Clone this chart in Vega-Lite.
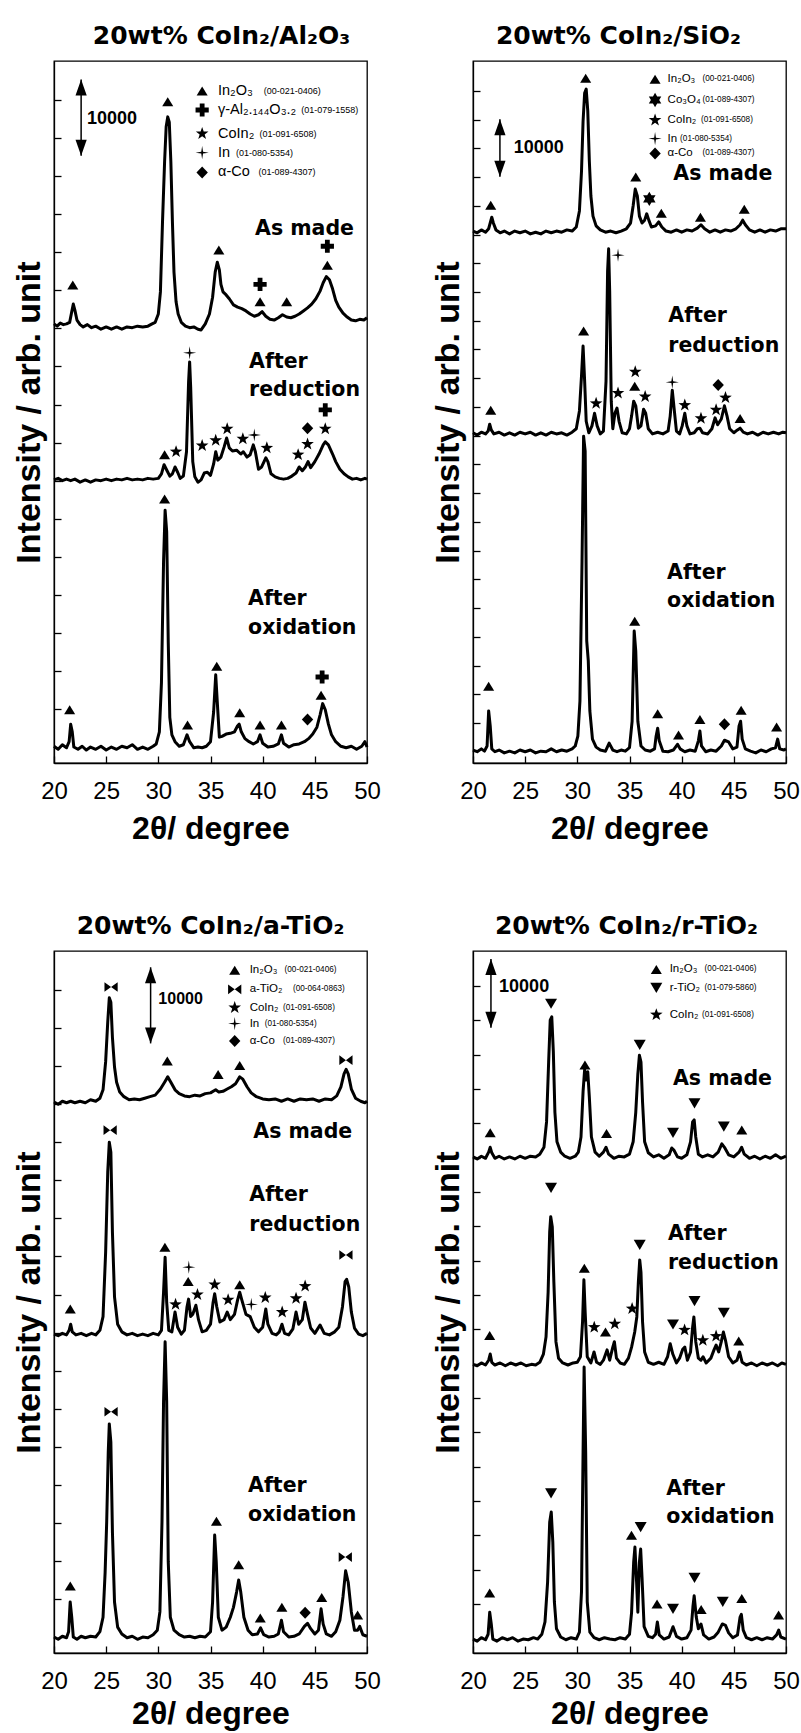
{
"$schema":"https://vega.github.io/schema/vega-lite/v6.json",
"background":"white",
"padding":{"left":11,"top":23,"right":5,"bottom":3},
"bounds":"flush",
"columns":2,
"spacing":{"row":188,"column":106},
"config":{
 "view":{"stroke":"black","strokeWidth":1.3},
 "axis":{"grid":false,"domainColor":"black","domainWidth":1.3,"tickColor":"black","tickWidth":1.3,"tickSize":-7,"labelColor":"black","titleColor":"black"},
 "axisX":{"labelFont":"Liberation Sans","labelFontSize":24,"labelPadding":23,"labelFlush":false,"labelOverlap":false,"titleFont":"Liberation Sans","titleFontSize":32,"titleFontWeight":"bold","titlePadding":10},
 "axisY":{"labels":false,"titleFont":"Liberation Sans","titleFontSize":34,"titleFontWeight":"bold","titlePadding":7},
 "title":{"font":"DejaVu Sans","fontSize":25,"fontWeight":"bold","color":"black","offset":12,"anchor":"middle","frame":"group"}
},
"concat":[
{
 "width":313,"height":702,
 "title":{"text":"20wt% CoIn₂/Al₂O₃","dx":11},
 "encoding":{
  "x":{"field":"x","type":"quantitative","scale":{"domain":[20,50],"nice":false,"zero":false},"axis":{"title":"2θ/ degree","values":[20,25,30,35,40,45,50]}},
  "y":{"field":"y","type":"quantitative","scale":{"domain":[2900,95140],"nice":false,"zero":false},"axis":{"title":"Intensity / arb. unit","values":[10000,15000,20000,25000,30000,35000,40000,45000,50000,55000,60000,65000,70000,75000,80000,85000,90000]}}
 },
 "layer":[
  {"data":{"name":"TLc"},"mark":{"type":"line","color":"black","strokeWidth":3,"strokeJoin":"round"},"encoding":{"detail":{"field":"s"}}},
  {"data":{"name":"TLm"},"mark":{"type":"point","filled":true,"color":"black","opacity":1,"size":144},"encoding":{"shape":{"field":"m","type":"nominal","legend":null,"scale":{"domain":["In2O3","Al2O3","CoIn2","In","Co","Co3O4","aTiO2","rTiO2"],"range":["M0,-0.75L0.92,0.75L-0.92,0.75Z","M-0.4,-1.1H0.4V-0.4H1.1V0.4H0.4V1.1H-0.4V0.4H-1.1V-0.4H-0.4Z","M0,-1.1L0.26,-0.36L1.05,-0.34L0.42,0.14L0.65,0.89L0,0.44L-0.65,0.89L-0.42,0.14L-1.05,-0.34L-0.26,-0.36Z","M0,-1.1L0.15,-0.15L1.1,0L0.15,0.15L0,1.1L-0.15,0.15L-1.1,0L-0.15,-0.15Z","M0,-1L0.95,0L0,1L-0.95,0Z","M0,-1.2L0.35,-0.6L1.04,-0.6L0.69,0L1.04,0.6L0.35,0.6L0,1.2L-0.35,0.6L-1.04,0.6L-0.69,0L-1.04,-0.6L-0.35,-0.6Z","M-1.1,-0.8L0,0L-1.1,0.8ZM1.1,-0.8L0,0L1.1,0.8Z","M0,0.85L1,-0.85L-1,-0.85Z"]}}}},
  {"data":{"name":"TLt"},"transform":[{"filter":"datum.k == 'label'"}],"mark":{"type":"text","font":"DejaVu Sans","fontWeight":"bold","fontSize":20.5,"align":"left","baseline":"middle","color":"black"},"encoding":{"text":{"field":"t"}}},
  {"data":{"name":"TLt"},"transform":[{"filter":"datum.k == 'scale'"}],"mark":{"type":"text","font":"Liberation Sans","fontWeight":"bold","fontSize":18,"align":"left","baseline":"middle","color":"black"},"encoding":{"text":{"field":"t"}}},
  {"data":{"name":"TLt"},"transform":[{"filter":"datum.k == 'name'"}],"mark":{"type":"text","font":"Liberation Sans","fontSize":14.5,"align":"left","baseline":"middle","color":"black"},"encoding":{"text":{"field":"t"}}},
  {"data":{"name":"TLt"},"transform":[{"filter":"datum.k == 'code'"}],"mark":{"type":"text","font":"Liberation Sans","fontSize":9,"align":"left","baseline":"middle","color":"black"},"encoding":{"text":{"field":"t"}}},
  {"data":{"name":"TLa"},"mark":{"type":"rule","color":"black","strokeWidth":1.5},"encoding":{"y2":{"field":"y2"}}},
  {"data":{"name":"TLa"},"mark":{"type":"point","shape":"M0,0L0.35,1L-0.35,1Z","filled":true,"size":1024,"color":"black","opacity":1},"encoding":{"y":{"field":"y2","type":"quantitative"}}},
  {"data":{"name":"TLa"},"mark":{"type":"point","shape":"M0,0L0.35,-1L-0.35,-1Z","filled":true,"size":1024,"color":"black","opacity":1}}
 ]
},
{
 "width":313,"height":702,
 "title":{"text":"20wt% CoIn₂/SiO₂","dx":-11},
 "encoding":{
  "x":{"field":"x","type":"quantitative","scale":{"domain":[20,50],"nice":false,"zero":false},"axis":{"title":"2θ/ degree","values":[20,25,30,35,40,45,50]}},
  "y":{"field":"y","type":"quantitative","scale":{"domain":[3040,125190],"nice":false,"zero":false},"axis":{"title":"Intensity / arb. unit","values":[10000,15000,20000,25000,30000,35000,40000,45000,50000,55000,60000,65000,70000,75000,80000,85000,90000,95000,100000,105000,110000,115000,120000]}}
 },
 "layer":[
  {"data":{"name":"TRc"},"mark":{"type":"line","color":"black","strokeWidth":3,"strokeJoin":"round"},"encoding":{"detail":{"field":"s"}}},
  {"data":{"name":"TRm"},"mark":{"type":"point","filled":true,"color":"black","opacity":1,"size":144},"encoding":{"shape":{"field":"m","type":"nominal","legend":null,"scale":{"domain":["In2O3","Al2O3","CoIn2","In","Co","Co3O4","aTiO2","rTiO2"],"range":["M0,-0.75L0.92,0.75L-0.92,0.75Z","M-0.4,-1.1H0.4V-0.4H1.1V0.4H0.4V1.1H-0.4V0.4H-1.1V-0.4H-0.4Z","M0,-1.1L0.26,-0.36L1.05,-0.34L0.42,0.14L0.65,0.89L0,0.44L-0.65,0.89L-0.42,0.14L-1.05,-0.34L-0.26,-0.36Z","M0,-1.1L0.15,-0.15L1.1,0L0.15,0.15L0,1.1L-0.15,0.15L-1.1,0L-0.15,-0.15Z","M0,-1L0.95,0L0,1L-0.95,0Z","M0,-1.2L0.35,-0.6L1.04,-0.6L0.69,0L1.04,0.6L0.35,0.6L0,1.2L-0.35,0.6L-1.04,0.6L-0.69,0L-1.04,-0.6L-0.35,-0.6Z","M-1.1,-0.8L0,0L-1.1,0.8ZM1.1,-0.8L0,0L1.1,0.8Z","M0,0.85L1,-0.85L-1,-0.85Z"]}}}},
  {"data":{"name":"TRt"},"transform":[{"filter":"datum.k == 'label'"}],"mark":{"type":"text","font":"DejaVu Sans","fontWeight":"bold","fontSize":20.5,"align":"left","baseline":"middle","color":"black"},"encoding":{"text":{"field":"t"}}},
  {"data":{"name":"TRt"},"transform":[{"filter":"datum.k == 'scale'"}],"mark":{"type":"text","font":"Liberation Sans","fontWeight":"bold","fontSize":18,"align":"left","baseline":"middle","color":"black"},"encoding":{"text":{"field":"t"}}},
  {"data":{"name":"TRt"},"transform":[{"filter":"datum.k == 'name'"}],"mark":{"type":"text","font":"Liberation Sans","fontSize":11.5,"align":"left","baseline":"middle","color":"black"},"encoding":{"text":{"field":"t"}}},
  {"data":{"name":"TRt"},"transform":[{"filter":"datum.k == 'code'"}],"mark":{"type":"text","font":"Liberation Sans","fontSize":8.2,"align":"left","baseline":"middle","color":"black"},"encoding":{"text":{"field":"t"}}},
  {"data":{"name":"TRa"},"mark":{"type":"rule","color":"black","strokeWidth":1.5},"encoding":{"y2":{"field":"y2"}}},
  {"data":{"name":"TRa"},"mark":{"type":"point","shape":"M0,0L0.35,1L-0.35,1Z","filled":true,"size":1024,"color":"black","opacity":1},"encoding":{"y":{"field":"y2","type":"quantitative"}}},
  {"data":{"name":"TRa"},"mark":{"type":"point","shape":"M0,0L0.35,-1L-0.35,-1Z","filled":true,"size":1024,"color":"black","opacity":1}}
 ]
},
{
 "width":313,"height":702,
 "title":{"text":"20wt% CoIn₂/a-TiO₂","dx":0},
 "encoding":{
  "x":{"field":"x","type":"quantitative","scale":{"domain":[20,50],"nice":false,"zero":false},"axis":{"title":"2θ/ degree","values":[20,25,30,35,40,45,50],"titlePadding":5}},
  "y":{"field":"y","type":"quantitative","scale":{"domain":[2900,95140],"nice":false,"zero":false},"axis":{"title":"Intensity / arb. unit","values":[10000,15000,20000,25000,30000,35000,40000,45000,50000,55000,60000,65000,70000,75000,80000,85000,90000]}}
 },
 "layer":[
  {"data":{"name":"BLc"},"mark":{"type":"line","color":"black","strokeWidth":3,"strokeJoin":"round"},"encoding":{"detail":{"field":"s"}}},
  {"data":{"name":"BLm"},"mark":{"type":"point","filled":true,"color":"black","opacity":1,"size":144},"encoding":{"shape":{"field":"m","type":"nominal","legend":null,"scale":{"domain":["In2O3","Al2O3","CoIn2","In","Co","Co3O4","aTiO2","rTiO2"],"range":["M0,-0.75L0.92,0.75L-0.92,0.75Z","M-0.4,-1.1H0.4V-0.4H1.1V0.4H0.4V1.1H-0.4V0.4H-1.1V-0.4H-0.4Z","M0,-1.1L0.26,-0.36L1.05,-0.34L0.42,0.14L0.65,0.89L0,0.44L-0.65,0.89L-0.42,0.14L-1.05,-0.34L-0.26,-0.36Z","M0,-1.1L0.15,-0.15L1.1,0L0.15,0.15L0,1.1L-0.15,0.15L-1.1,0L-0.15,-0.15Z","M0,-1L0.95,0L0,1L-0.95,0Z","M0,-1.2L0.35,-0.6L1.04,-0.6L0.69,0L1.04,0.6L0.35,0.6L0,1.2L-0.35,0.6L-1.04,0.6L-0.69,0L-1.04,-0.6L-0.35,-0.6Z","M-1.1,-0.8L0,0L-1.1,0.8ZM1.1,-0.8L0,0L1.1,0.8Z","M0,0.85L1,-0.85L-1,-0.85Z"]}}}},
  {"data":{"name":"BLt"},"transform":[{"filter":"datum.k == 'label'"}],"mark":{"type":"text","font":"DejaVu Sans","fontWeight":"bold","fontSize":20.5,"align":"left","baseline":"middle","color":"black"},"encoding":{"text":{"field":"t"}}},
  {"data":{"name":"BLt"},"transform":[{"filter":"datum.k == 'scale'"}],"mark":{"type":"text","font":"Liberation Sans","fontWeight":"bold","fontSize":16,"align":"left","baseline":"middle","color":"black"},"encoding":{"text":{"field":"t"}}},
  {"data":{"name":"BLt"},"transform":[{"filter":"datum.k == 'name'"}],"mark":{"type":"text","font":"Liberation Sans","fontSize":11.5,"align":"left","baseline":"middle","color":"black"},"encoding":{"text":{"field":"t"}}},
  {"data":{"name":"BLt"},"transform":[{"filter":"datum.k == 'code'"}],"mark":{"type":"text","font":"Liberation Sans","fontSize":8.2,"align":"left","baseline":"middle","color":"black"},"encoding":{"text":{"field":"t"}}},
  {"data":{"name":"BLa"},"mark":{"type":"rule","color":"black","strokeWidth":1.5},"encoding":{"y2":{"field":"y2"}}},
  {"data":{"name":"BLa"},"mark":{"type":"point","shape":"M0,0L0.35,1L-0.35,1Z","filled":true,"size":1024,"color":"black","opacity":1},"encoding":{"y":{"field":"y2","type":"quantitative"}}},
  {"data":{"name":"BLa"},"mark":{"type":"point","shape":"M0,0L0.35,-1L-0.35,-1Z","filled":true,"size":1024,"color":"black","opacity":1}}
 ]
},
{
 "width":313,"height":702,
 "title":{"text":"20wt% CoIn₂/r-TiO₂","dx":-3},
 "encoding":{
  "x":{"field":"x","type":"quantitative","scale":{"domain":[20,50],"nice":false,"zero":false},"axis":{"title":"2θ/ degree","values":[20,25,30,35,40,45,50],"titlePadding":5}},
  "y":{"field":"y","type":"quantitative","scale":{"domain":[2870,105080],"nice":false,"zero":false},"axis":{"title":"Intensity / arb. unit","values":[10000,15000,20000,25000,30000,35000,40000,45000,50000,55000,60000,65000,70000,75000,80000,85000,90000,95000,100000]}}
 },
 "layer":[
  {"data":{"name":"BRc"},"mark":{"type":"line","color":"black","strokeWidth":3,"strokeJoin":"round"},"encoding":{"detail":{"field":"s"}}},
  {"data":{"name":"BRm"},"mark":{"type":"point","filled":true,"color":"black","opacity":1,"size":144},"encoding":{"shape":{"field":"m","type":"nominal","legend":null,"scale":{"domain":["In2O3","Al2O3","CoIn2","In","Co","Co3O4","aTiO2","rTiO2"],"range":["M0,-0.75L0.92,0.75L-0.92,0.75Z","M-0.4,-1.1H0.4V-0.4H1.1V0.4H0.4V1.1H-0.4V0.4H-1.1V-0.4H-0.4Z","M0,-1.1L0.26,-0.36L1.05,-0.34L0.42,0.14L0.65,0.89L0,0.44L-0.65,0.89L-0.42,0.14L-1.05,-0.34L-0.26,-0.36Z","M0,-1.1L0.15,-0.15L1.1,0L0.15,0.15L0,1.1L-0.15,0.15L-1.1,0L-0.15,-0.15Z","M0,-1L0.95,0L0,1L-0.95,0Z","M0,-1.2L0.35,-0.6L1.04,-0.6L0.69,0L1.04,0.6L0.35,0.6L0,1.2L-0.35,0.6L-1.04,0.6L-0.69,0L-1.04,-0.6L-0.35,-0.6Z","M-1.1,-0.8L0,0L-1.1,0.8ZM1.1,-0.8L0,0L1.1,0.8Z","M0,0.85L1,-0.85L-1,-0.85Z"]}}}},
  {"data":{"name":"BRt"},"transform":[{"filter":"datum.k == 'label'"}],"mark":{"type":"text","font":"DejaVu Sans","fontWeight":"bold","fontSize":20.5,"align":"left","baseline":"middle","color":"black"},"encoding":{"text":{"field":"t"}}},
  {"data":{"name":"BRt"},"transform":[{"filter":"datum.k == 'scale'"}],"mark":{"type":"text","font":"Liberation Sans","fontWeight":"bold","fontSize":18,"align":"left","baseline":"middle","color":"black"},"encoding":{"text":{"field":"t"}}},
  {"data":{"name":"BRt"},"transform":[{"filter":"datum.k == 'name'"}],"mark":{"type":"text","font":"Liberation Sans","fontSize":11.5,"align":"left","baseline":"middle","color":"black"},"encoding":{"text":{"field":"t"}}},
  {"data":{"name":"BRt"},"transform":[{"filter":"datum.k == 'code'"}],"mark":{"type":"text","font":"Liberation Sans","fontSize":8.2,"align":"left","baseline":"middle","color":"black"},"encoding":{"text":{"field":"t"}}},
  {"data":{"name":"BRa"},"mark":{"type":"rule","color":"black","strokeWidth":1.5},"encoding":{"y2":{"field":"y2"}}},
  {"data":{"name":"BRa"},"mark":{"type":"point","shape":"M0,0L0.35,1L-0.35,1Z","filled":true,"size":1024,"color":"black","opacity":1},"encoding":{"y":{"field":"y2","type":"quantitative"}}},
  {"data":{"name":"BRa"},"mark":{"type":"point","shape":"M0,0L0.35,-1L-0.35,-1Z","filled":true,"size":1024,"color":"black","opacity":1}}
 ]
}
],
"datasets":{
"TLa":[{"x":22.6,"y":82700,"y2":92700}],
"TRa":[{"x":22.58,"y":105050,"y2":115050}],
"BLa":[{"x":29.26,"y":83000,"y2":93000}],
"BRa":[{"x":21.72,"y":93900,"y2":103900}],
"TLt":[
{"k":"label","x":39.27,"y":73100,"t":"As made"},
{"k":"label","x":38.7,"y":55600,"t":"After"},
{"k":"label","x":38.7,"y":51900,"t":"reduction"},
{"k":"label","x":38.6,"y":24400,"t":"After"},
{"k":"label","x":38.6,"y":20600,"t":"oxidation"},
{"k":"scale","x":23.16,"y":87500,"t":"10000"},
{"k":"name","x":35.72,"y":91200,"t":"In₂O₃"},
{"k":"code","x":40.1,"y":91200,"t":"(00-021-0406)"},
{"k":"name","x":35.72,"y":88700,"t":"γ-Al₂.₁₄₄O₃.₂"},
{"k":"code","x":43.7,"y":88700,"t":"(01-079-1558)"},
{"k":"name","x":35.72,"y":85600,"t":"CoIn₂"},
{"k":"code","x":39.7,"y":85600,"t":"(01-091-6508)"},
{"k":"name","x":35.72,"y":83100,"t":"In"},
{"k":"code","x":37.45,"y":83100,"t":"(01-080-5354)"},
{"k":"name","x":35.72,"y":80500,"t":"α-Co"},
{"k":"code","x":39.6,"y":80500,"t":"(01-089-4307)"}
],
"TRt":[
{"k":"label","x":39.2,"y":105500,"t":"As made"},
{"k":"label","x":38.72,"y":80800,"t":"After"},
{"k":"label","x":38.72,"y":75600,"t":"reduction"},
{"k":"label","x":38.6,"y":36100,"t":"After"},
{"k":"label","x":38.6,"y":31200,"t":"oxidation"},
{"k":"scale","x":23.9,"y":110050,"t":"10000"},
{"k":"name","x":38.65,"y":122000,"t":"In₂O₃"},
{"k":"code","x":42.0,"y":122000,"t":"(00-021-0406)"},
{"k":"name","x":38.65,"y":118400,"t":"Co₃O₄"},
{"k":"code","x":42.0,"y":118400,"t":"(01-089-4307)"},
{"k":"name","x":38.65,"y":114900,"t":"CoIn₂"},
{"k":"code","x":41.85,"y":114900,"t":"(01-091-6508)"},
{"k":"name","x":38.65,"y":111700,"t":"In"},
{"k":"code","x":39.85,"y":111700,"t":"(01-080-5354)"},
{"k":"name","x":38.65,"y":109100,"t":"α-Co"},
{"k":"code","x":42.0,"y":109100,"t":"(01-089-4307)"}
],
"BLt":[
{"k":"label","x":39.1,"y":71300,"t":"As made"},
{"k":"label","x":38.72,"y":63100,"t":"After"},
{"k":"label","x":38.72,"y":59200,"t":"reduction"},
{"k":"label","x":38.6,"y":24900,"t":"After"},
{"k":"label","x":38.6,"y":21000,"t":"oxidation"},
{"k":"scale","x":30.0,"y":88800,"t":"10000"},
{"k":"name","x":38.75,"y":92600,"t":"In₂O₃"},
{"k":"code","x":42.1,"y":92600,"t":"(00-021-0406)"},
{"k":"name","x":38.75,"y":90100,"t":"a-TiO₂"},
{"k":"code","x":42.9,"y":90100,"t":"(00-064-0863)"},
{"k":"name","x":38.75,"y":87700,"t":"CoIn₂"},
{"k":"code","x":41.95,"y":87700,"t":"(01-091-6508)"},
{"k":"name","x":38.75,"y":85600,"t":"In"},
{"k":"code","x":40.2,"y":85600,"t":"(01-080-5354)"},
{"k":"name","x":38.75,"y":83300,"t":"α-Co"},
{"k":"code","x":41.95,"y":83300,"t":"(01-089-4307)"}
],
"BRt":[
{"k":"label","x":39.17,"y":86500,"t":"As made"},
{"k":"label","x":38.69,"y":63900,"t":"After"},
{"k":"label","x":38.69,"y":59600,"t":"reduction"},
{"k":"label","x":38.53,"y":26800,"t":"After"},
{"k":"label","x":38.53,"y":22700,"t":"oxidation"},
{"k":"scale","x":22.5,"y":99800,"t":"10000"},
{"k":"name","x":38.85,"y":102400,"t":"In₂O₃"},
{"k":"code","x":42.2,"y":102400,"t":"(00-021-0406)"},
{"k":"name","x":38.85,"y":99700,"t":"r-TiO₂"},
{"k":"code","x":42.2,"y":99700,"t":"(01-079-5860)"},
{"k":"name","x":38.85,"y":95800,"t":"CoIn₂"},
{"k":"code","x":41.95,"y":95800,"t":"(01-091-6508)"}
],
"TLm":[
{"m":"In2O3","x":21.8,"y":65700},{"m":"In2O3","x":30.9,"y":89800},{"m":"In2O3","x":35.8,"y":70300},{"m":"Al2O3","x":39.75,"y":65800},{"m":"In2O3","x":39.75,"y":63500},{"m":"In2O3","x":42.3,"y":63500},{"m":"Al2O3","x":46.2,"y":70800},{"m":"In2O3","x":46.2,"y":68300},
{"m":"In2O3","x":30.6,"y":43400},{"m":"CoIn2","x":31.7,"y":43800},{"m":"In","x":33.0,"y":56800},{"m":"CoIn2","x":34.2,"y":44600},{"m":"CoIn2","x":35.5,"y":45300},{"m":"CoIn2","x":36.6,"y":46800},{"m":"CoIn2","x":38.1,"y":45500},{"m":"In","x":39.2,"y":46000},{"m":"CoIn2","x":40.4,"y":44300},{"m":"CoIn2","x":43.4,"y":43400},{"m":"CoIn2","x":44.3,"y":44800},{"m":"Co","x":44.3,"y":46900},{"m":"CoIn2","x":46.0,"y":46800},{"m":"Al2O3","x":46.0,"y":49300},
{"m":"In2O3","x":30.6,"y":37600},{"m":"In2O3","x":21.5,"y":9900},{"m":"In2O3","x":32.8,"y":7900},{"m":"In2O3","x":35.6,"y":15600},{"m":"In2O3","x":37.8,"y":9500},{"m":"In2O3","x":39.75,"y":7900},{"m":"In2O3","x":41.8,"y":7900},{"m":"Co","x":44.3,"y":8600},{"m":"In2O3","x":45.6,"y":11800},{"m":"Al2O3","x":45.7,"y":14200},
{"m":"In2O3","x":34.2,"y":91200},{"m":"Al2O3","x":34.2,"y":88700},{"m":"CoIn2","x":34.2,"y":85600},{"m":"In","x":34.2,"y":83100},{"m":"Co","x":34.2,"y":80500}
],
"TRm":[
{"m":"In2O3","x":21.7,"y":100100},{"m":"In2O3","x":30.8,"y":122200},{"m":"In2O3","x":35.6,"y":105000},{"m":"Co3O4","x":36.9,"y":101200},{"m":"In2O3","x":38.05,"y":98700},{"m":"In2O3","x":41.8,"y":98000},{"m":"In2O3","x":46.0,"y":99400},
{"m":"In2O3","x":21.7,"y":64400},{"m":"In2O3","x":30.6,"y":78200},{"m":"CoIn2","x":31.8,"y":65600},{"m":"In","x":33.9,"y":91400},{"m":"CoIn2","x":33.9,"y":67400},{"m":"CoIn2","x":35.55,"y":71100},{"m":"In2O3","x":35.5,"y":68600},{"m":"CoIn2","x":36.5,"y":66800},{"m":"In","x":39.1,"y":69300},{"m":"CoIn2","x":40.3,"y":65300},{"m":"CoIn2","x":41.85,"y":63000},{"m":"CoIn2","x":43.3,"y":64500},{"m":"Co","x":43.5,"y":68800},{"m":"CoIn2","x":44.2,"y":66600},{"m":"In2O3","x":45.6,"y":63000},
{"m":"In2O3","x":21.5,"y":16400},{"m":"In2O3","x":35.5,"y":27700},{"m":"In2O3","x":37.7,"y":11600},{"m":"In2O3","x":39.7,"y":7900},{"m":"In2O3","x":41.75,"y":10600},{"m":"Co","x":44.1,"y":9800},{"m":"In2O3","x":45.7,"y":12200},{"m":"In2O3","x":49.1,"y":9300},
{"m":"In2O3","x":37.45,"y":122000},{"m":"Co3O4","x":37.45,"y":118400},{"m":"CoIn2","x":37.45,"y":114900},{"m":"In","x":37.45,"y":111700},{"m":"Co","x":37.45,"y":109100}
],
"BLm":[
{"m":"aTiO2","x":25.47,"y":90400},{"m":"In2O3","x":30.86,"y":80700},{"m":"In2O3","x":35.73,"y":78900},{"m":"In2O3","x":37.8,"y":80100},{"m":"aTiO2","x":47.98,"y":80800},
{"m":"aTiO2","x":25.38,"y":71600},{"m":"In2O3","x":21.56,"y":48100},{"m":"In2O3","x":30.63,"y":56200},{"m":"CoIn2","x":31.65,"y":48700},{"m":"In","x":32.92,"y":53600},{"m":"In2O3","x":32.86,"y":51700},{"m":"CoIn2","x":33.75,"y":50000},{"m":"CoIn2","x":35.4,"y":51300},{"m":"CoIn2","x":36.69,"y":49300},{"m":"In2O3","x":37.8,"y":51300},{"m":"In","x":38.91,"y":48700},{"m":"CoIn2","x":40.25,"y":49600},{"m":"CoIn2","x":41.87,"y":47700},{"m":"CoIn2","x":43.2,"y":49500},{"m":"CoIn2","x":44.07,"y":51100},{"m":"aTiO2","x":47.98,"y":55200},
{"m":"aTiO2","x":25.47,"y":34600},{"m":"In2O3","x":21.56,"y":11700},{"m":"In2O3","x":35.57,"y":20200},{"m":"In2O3","x":37.7,"y":14500},{"m":"In2O3","x":39.77,"y":7500},{"m":"In2O3","x":41.84,"y":8900},{"m":"Co","x":44.07,"y":8200},{"m":"In2O3","x":45.66,"y":10200},{"m":"aTiO2","x":47.92,"y":15500},{"m":"In2O3","x":49.1,"y":7900},
{"m":"In2O3","x":37.32,"y":92600},{"m":"aTiO2","x":37.32,"y":90100},{"m":"CoIn2","x":37.32,"y":87700},{"m":"In","x":37.32,"y":85600},{"m":"Co","x":37.32,"y":83300}
],
"BRm":[
{"m":"In2O3","x":21.65,"y":78600},{"m":"rTiO2","x":27.48,"y":97400},{"m":"In2O3","x":30.73,"y":88500},{"m":"In2O3","x":32.8,"y":78500},{"m":"rTiO2","x":35.98,"y":91400},{"m":"rTiO2","x":39.17,"y":78600},{"m":"rTiO2","x":41.23,"y":82900},{"m":"rTiO2","x":44.04,"y":79500},{"m":"In2O3","x":45.76,"y":79000},
{"m":"rTiO2","x":27.48,"y":70600},{"m":"In2O3","x":21.6,"y":49100},{"m":"In2O3","x":30.67,"y":58900},{"m":"CoIn2","x":31.62,"y":50300},{"m":"In2O3","x":32.7,"y":49600},{"m":"CoIn2","x":33.59,"y":50800},{"m":"CoIn2","x":35.25,"y":53000},{"m":"rTiO2","x":35.98,"y":62300},{"m":"rTiO2","x":39.17,"y":50700},{"m":"CoIn2","x":40.28,"y":49900},{"m":"rTiO2","x":41.23,"y":54100},{"m":"CoIn2","x":42.03,"y":48400},{"m":"CoIn2","x":43.3,"y":49000},{"m":"rTiO2","x":44.04,"y":52400},{"m":"In2O3","x":45.47,"y":48300},
{"m":"In2O3","x":21.6,"y":11600},{"m":"rTiO2","x":27.48,"y":26100},{"m":"In2O3","x":35.19,"y":20000},{"m":"rTiO2","x":36.07,"y":21200},{"m":"In2O3","x":37.64,"y":10000},{"m":"rTiO2","x":39.17,"y":9300},{"m":"rTiO2","x":41.23,"y":13800},{"m":"In2O3","x":41.87,"y":9200},{"m":"rTiO2","x":43.94,"y":10300},{"m":"In2O3","x":45.76,"y":10800},{"m":"In2O3","x":49.29,"y":8400},
{"m":"In2O3","x":37.57,"y":102400},{"m":"rTiO2","x":37.57,"y":99700},{"m":"CoIn2","x":37.57,"y":95800}
],
"TLc":[
{"s":"a","x":20,"y":60600},{"s":"a","x":20.3,"y":60300},{"s":"a","x":20.6,"y":60700},{"s":"a","x":20.9,"y":60500},{"s":"a","x":21.2,"y":60600},{"s":"a","x":21.5,"y":60800},{"s":"a","x":21.7,"y":62200},{"s":"a","x":21.85,"y":63200},{"s":"a","x":22,"y":62400},{"s":"a","x":22.2,"y":61100},{"s":"a","x":22.5,"y":60500},{"s":"a","x":22.8,"y":60200},{"s":"a","x":23.2,"y":60500},{"s":"a","x":23.6,"y":60100},{"s":"a","x":24,"y":60300},{"s":"a","x":24.5,"y":59900},{"s":"a","x":25,"y":60200},{"s":"a","x":25.5,"y":59900},{"s":"a","x":26,"y":60200},{"s":"a","x":26.5,"y":59900},{"s":"a","x":27,"y":60200},{"s":"a","x":27.5,"y":60100},{"s":"a","x":28,"y":60300},{"s":"a","x":28.5,"y":60200},{"s":"a","x":29,"y":60300},{"s":"a","x":29.4,"y":60600},{"s":"a","x":29.7,"y":60800},{"s":"a","x":30,"y":61900},{"s":"a","x":30.2,"y":64800},{"s":"a","x":30.4,"y":74000},{"s":"a","x":30.6,"y":81900},{"s":"a","x":30.75,"y":86500},{"s":"a","x":30.9,"y":87800},{"s":"a","x":31.05,"y":87100},{"s":"a","x":31.2,"y":81900},{"s":"a","x":31.35,"y":74000},{"s":"a","x":31.5,"y":67400},{"s":"a","x":31.7,"y":63500},{"s":"a","x":31.9,"y":61900},{"s":"a","x":32.2,"y":60800},{"s":"a","x":32.6,"y":60300},{"s":"a","x":33,"y":60100},{"s":"a","x":33.4,"y":60200},{"s":"a","x":33.8,"y":59900},{"s":"a","x":34.1,"y":59800},{"s":"a","x":34.5,"y":60600},{"s":"a","x":34.9,"y":61900},{"s":"a","x":35.2,"y":64100},{"s":"a","x":35.45,"y":67400},{"s":"a","x":35.65,"y":68700},{"s":"a","x":35.85,"y":67700},{"s":"a","x":36,"y":65800},{"s":"a","x":36.2,"y":64800},{"s":"a","x":36.5,"y":64400},{"s":"a","x":36.8,"y":63900},{"s":"a","x":37.2,"y":63100},{"s":"a","x":37.6,"y":62800},{"s":"a","x":38,"y":62600},{"s":"a","x":38.4,"y":62300},{"s":"a","x":38.8,"y":61900},{"s":"a","x":39.2,"y":61600},{"s":"a","x":39.6,"y":61800},{"s":"a","x":39.95,"y":62200},{"s":"a","x":40.3,"y":61600},{"s":"a","x":40.7,"y":61200},{"s":"a","x":41.1,"y":61100},{"s":"a","x":41.5,"y":61400},{"s":"a","x":41.9,"y":61800},{"s":"a","x":42.3,"y":61500},{"s":"a","x":42.7,"y":61400},{"s":"a","x":43.1,"y":61600},{"s":"a","x":43.5,"y":61900},{"s":"a","x":43.9,"y":62300},{"s":"a","x":44.3,"y":62700},{"s":"a","x":44.7,"y":63200},{"s":"a","x":45.1,"y":63900},{"s":"a","x":45.5,"y":64900},{"s":"a","x":45.8,"y":66000},{"s":"a","x":46.1,"y":66800},{"s":"a","x":46.4,"y":66400},{"s":"a","x":46.7,"y":65200},{"s":"a","x":47,"y":63700},{"s":"a","x":47.3,"y":62800},{"s":"a","x":47.7,"y":62000},{"s":"a","x":48.1,"y":61500},{"s":"a","x":48.5,"y":61100},{"s":"a","x":48.9,"y":61000},{"s":"a","x":49.3,"y":61200},{"s":"a","x":49.7,"y":61100},{"s":"a","x":50,"y":61400},
{"s":"r","x":20,"y":40100},{"s":"r","x":20.4,"y":40300},{"s":"r","x":20.8,"y":40000},{"s":"r","x":21.2,"y":40200},{"s":"r","x":21.6,"y":40000},{"s":"r","x":22,"y":40200},{"s":"r","x":22.5,"y":39800},{"s":"r","x":23,"y":40100},{"s":"r","x":23.5,"y":39800},{"s":"r","x":24,"y":40100},{"s":"r","x":24.5,"y":40000},{"s":"r","x":25,"y":40200},{"s":"r","x":25.5,"y":40000},{"s":"r","x":26,"y":40200},{"s":"r","x":26.5,"y":40100},{"s":"r","x":27,"y":40300},{"s":"r","x":27.5,"y":40100},{"s":"r","x":28,"y":40200},{"s":"r","x":28.5,"y":40100},{"s":"r","x":29,"y":40300},{"s":"r","x":29.5,"y":40200},{"s":"r","x":30,"y":40300},{"s":"r","x":30.3,"y":40900},{"s":"r","x":30.55,"y":42100},{"s":"r","x":30.8,"y":41400},{"s":"r","x":31.1,"y":40600},{"s":"r","x":31.35,"y":40900},{"s":"r","x":31.6,"y":41800},{"s":"r","x":31.85,"y":41100},{"s":"r","x":32.1,"y":40300},{"s":"r","x":32.4,"y":40600},{"s":"r","x":32.7,"y":43800},{"s":"r","x":32.9,"y":53000},{"s":"r","x":33,"y":55600},{"s":"r","x":33.1,"y":52300},{"s":"r","x":33.3,"y":42500},{"s":"r","x":33.5,"y":40500},{"s":"r","x":33.8,"y":39800},{"s":"r","x":34.1,"y":40100},{"s":"r","x":34.4,"y":41000},{"s":"r","x":34.7,"y":41100},{"s":"r","x":35,"y":40700},{"s":"r","x":35.3,"y":42200},{"s":"r","x":35.5,"y":43800},{"s":"r","x":35.7,"y":42700},{"s":"r","x":36,"y":43100},{"s":"r","x":36.3,"y":44400},{"s":"r","x":36.55,"y":45600},{"s":"r","x":36.8,"y":44300},{"s":"r","x":37.1,"y":43900},{"s":"r","x":37.5,"y":44000},{"s":"r","x":37.9,"y":43500},{"s":"r","x":38.15,"y":43800},{"s":"r","x":38.5,"y":43100},{"s":"r","x":38.8,"y":43400},{"s":"r","x":39.1,"y":44700},{"s":"r","x":39.3,"y":43800},{"s":"r","x":39.6,"y":41500},{"s":"r","x":39.9,"y":41800},{"s":"r","x":40.3,"y":43000},{"s":"r","x":40.5,"y":42500},{"s":"r","x":40.8,"y":40900},{"s":"r","x":41.2,"y":40500},{"s":"r","x":41.6,"y":40300},{"s":"r","x":42,"y":40200},{"s":"r","x":42.4,"y":40300},{"s":"r","x":42.8,"y":40600},{"s":"r","x":43.2,"y":41000},{"s":"r","x":43.5,"y":41800},{"s":"r","x":43.8,"y":41300},{"s":"r","x":44.1,"y":41800},{"s":"r","x":44.35,"y":42500},{"s":"r","x":44.6,"y":41700},{"s":"r","x":45,"y":42500},{"s":"r","x":45.4,"y":43500},{"s":"r","x":45.8,"y":44700},{"s":"r","x":46,"y":45100},{"s":"r","x":46.3,"y":44700},{"s":"r","x":46.7,"y":43500},{"s":"r","x":47,"y":42500},{"s":"r","x":47.4,"y":41500},{"s":"r","x":47.8,"y":40900},{"s":"r","x":48.2,"y":40500},{"s":"r","x":48.6,"y":40200},{"s":"r","x":49,"y":40300},{"s":"r","x":49.4,"y":40100},{"s":"r","x":49.8,"y":40300},{"s":"r","x":50,"y":40200},
{"s":"o","x":20,"y":5100},{"s":"o","x":20.4,"y":4700},{"s":"o","x":20.8,"y":5300},{"s":"o","x":21.2,"y":4900},{"s":"o","x":21.45,"y":5700},{"s":"o","x":21.6,"y":8000},{"s":"o","x":21.75,"y":7000},{"s":"o","x":21.9,"y":5000},{"s":"o","x":22.3,"y":4700},{"s":"o","x":22.7,"y":5100},{"s":"o","x":23.1,"y":4600},{"s":"o","x":23.5,"y":5000},{"s":"o","x":24,"y":4700},{"s":"o","x":24.5,"y":5100},{"s":"o","x":25,"y":4600},{"s":"o","x":25.5,"y":5000},{"s":"o","x":26,"y":4700},{"s":"o","x":26.5,"y":5100},{"s":"o","x":27,"y":4900},{"s":"o","x":27.5,"y":5300},{"s":"o","x":28,"y":4700},{"s":"o","x":28.5,"y":5000},{"s":"o","x":29,"y":4700},{"s":"o","x":29.5,"y":5100},{"s":"o","x":29.8,"y":5400},{"s":"o","x":30.1,"y":7000},{"s":"o","x":30.3,"y":13500},{"s":"o","x":30.5,"y":29300},{"s":"o","x":30.65,"y":36100},{"s":"o","x":30.8,"y":33300},{"s":"o","x":30.95,"y":18800},{"s":"o","x":31.1,"y":8900},{"s":"o","x":31.3,"y":6600},{"s":"o","x":31.6,"y":5700},{"s":"o","x":32,"y":5100},{"s":"o","x":32.4,"y":5300},{"s":"o","x":32.75,"y":6600},{"s":"o","x":33,"y":5700},{"s":"o","x":33.4,"y":4900},{"s":"o","x":33.8,"y":5000},{"s":"o","x":34.2,"y":4900},{"s":"o","x":34.6,"y":5100},{"s":"o","x":35,"y":5700},{"s":"o","x":35.3,"y":9600},{"s":"o","x":35.5,"y":14500},{"s":"o","x":35.65,"y":10900},{"s":"o","x":35.85,"y":6300},{"s":"o","x":36.1,"y":6400},{"s":"o","x":36.5,"y":6700},{"s":"o","x":36.9,"y":6800},{"s":"o","x":37.3,"y":7000},{"s":"o","x":37.6,"y":7800},{"s":"o","x":37.75,"y":8000},{"s":"o","x":37.95,"y":7000},{"s":"o","x":38.3,"y":6100},{"s":"o","x":38.7,"y":5700},{"s":"o","x":39.1,"y":5400},{"s":"o","x":39.5,"y":5700},{"s":"o","x":39.75,"y":6600},{"s":"o","x":40,"y":5500},{"s":"o","x":40.5,"y":5000},{"s":"o","x":41,"y":5100},{"s":"o","x":41.5,"y":5400},{"s":"o","x":41.8,"y":6600},{"s":"o","x":42,"y":5500},{"s":"o","x":42.5,"y":5000},{"s":"o","x":43,"y":5300},{"s":"o","x":43.5,"y":5400},{"s":"o","x":44,"y":5700},{"s":"o","x":44.4,"y":6100},{"s":"o","x":44.8,"y":6700},{"s":"o","x":45.2,"y":7600},{"s":"o","x":45.5,"y":9200},{"s":"o","x":45.75,"y":10700},{"s":"o","x":46,"y":9900},{"s":"o","x":46.3,"y":8000},{"s":"o","x":46.6,"y":6600},{"s":"o","x":47,"y":5700},{"s":"o","x":47.5,"y":5100},{"s":"o","x":48,"y":4900},{"s":"o","x":48.5,"y":5100},{"s":"o","x":49,"y":4700},{"s":"o","x":49.5,"y":5100},{"s":"o","x":49.8,"y":5700},{"s":"o","x":50,"y":5000}
],
"TRc":[
{"s":"a","x":20,"y":95600},{"s":"a","x":20.4,"y":95300},{"s":"a","x":20.8,"y":95800},{"s":"a","x":21.2,"y":95400},{"s":"a","x":21.5,"y":96000},{"s":"a","x":21.65,"y":97000},{"s":"a","x":21.8,"y":98000},{"s":"a","x":21.95,"y":97000},{"s":"a","x":22.2,"y":95800},{"s":"a","x":22.6,"y":95300},{"s":"a","x":23,"y":95600},{"s":"a","x":23.5,"y":95100},{"s":"a","x":24,"y":95600},{"s":"a","x":24.5,"y":95300},{"s":"a","x":25,"y":95600},{"s":"a","x":25.5,"y":95100},{"s":"a","x":26,"y":95400},{"s":"a","x":26.5,"y":95100},{"s":"a","x":27,"y":95600},{"s":"a","x":27.5,"y":95300},{"s":"a","x":28,"y":95600},{"s":"a","x":28.5,"y":95400},{"s":"a","x":29,"y":95800},{"s":"a","x":29.5,"y":95600},{"s":"a","x":29.9,"y":96300},{"s":"a","x":30.2,"y":99100},{"s":"a","x":30.4,"y":106000},{"s":"a","x":30.55,"y":114700},{"s":"a","x":30.7,"y":119600},{"s":"a","x":30.85,"y":120300},{"s":"a","x":31,"y":116500},{"s":"a","x":31.15,"y":107800},{"s":"a","x":31.3,"y":101700},{"s":"a","x":31.5,"y":98200},{"s":"a","x":31.8,"y":96500},{"s":"a","x":32.2,"y":95800},{"s":"a","x":32.7,"y":95400},{"s":"a","x":33.2,"y":95600},{"s":"a","x":33.7,"y":95300},{"s":"a","x":34.2,"y":95600},{"s":"a","x":34.7,"y":96000},{"s":"a","x":35.1,"y":97000},{"s":"a","x":35.35,"y":100000},{"s":"a","x":35.55,"y":102900},{"s":"a","x":35.75,"y":101700},{"s":"a","x":35.95,"y":98200},{"s":"a","x":36.2,"y":97000},{"s":"a","x":36.45,"y":97500},{"s":"a","x":36.65,"y":98600},{"s":"a","x":36.85,"y":97500},{"s":"a","x":37.1,"y":96300},{"s":"a","x":37.5,"y":96500},{"s":"a","x":37.8,"y":97200},{"s":"a","x":38.1,"y":96300},{"s":"a","x":38.5,"y":95600},{"s":"a","x":39,"y":95400},{"s":"a","x":39.5,"y":95800},{"s":"a","x":40,"y":95400},{"s":"a","x":40.5,"y":95800},{"s":"a","x":41,"y":95600},{"s":"a","x":41.5,"y":96100},{"s":"a","x":41.85,"y":96700},{"s":"a","x":42.2,"y":96000},{"s":"a","x":42.7,"y":95400},{"s":"a","x":43.2,"y":95800},{"s":"a","x":43.7,"y":95400},{"s":"a","x":44.2,"y":95800},{"s":"a","x":44.7,"y":95600},{"s":"a","x":45.2,"y":96000},{"s":"a","x":45.6,"y":96700},{"s":"a","x":45.85,"y":97500},{"s":"a","x":46.1,"y":96700},{"s":"a","x":46.5,"y":95800},{"s":"a","x":47,"y":95400},{"s":"a","x":47.5,"y":95800},{"s":"a","x":48,"y":95400},{"s":"a","x":48.5,"y":95800},{"s":"a","x":49,"y":95600},{"s":"a","x":49.5,"y":96000},{"s":"a","x":50,"y":96000},
{"s":"r","x":20,"y":60500},{"s":"r","x":20.4,"y":60100},{"s":"r","x":20.8,"y":60600},{"s":"r","x":21.2,"y":60300},{"s":"r","x":21.45,"y":60800},{"s":"r","x":21.6,"y":62000},{"s":"r","x":21.75,"y":61000},{"s":"r","x":22,"y":60300},{"s":"r","x":22.5,"y":60600},{"s":"r","x":23,"y":60100},{"s":"r","x":23.5,"y":60500},{"s":"r","x":24,"y":60100},{"s":"r","x":24.5,"y":60600},{"s":"r","x":25,"y":60300},{"s":"r","x":25.5,"y":60600},{"s":"r","x":26,"y":60100},{"s":"r","x":26.5,"y":60500},{"s":"r","x":27,"y":60100},{"s":"r","x":27.5,"y":60600},{"s":"r","x":28,"y":60300},{"s":"r","x":28.5,"y":60500},{"s":"r","x":29,"y":60100},{"s":"r","x":29.5,"y":60600},{"s":"r","x":29.9,"y":61200},{"s":"r","x":30.2,"y":64300},{"s":"r","x":30.4,"y":70400},{"s":"r","x":30.55,"y":75600},{"s":"r","x":30.7,"y":69500},{"s":"r","x":30.85,"y":62500},{"s":"r","x":31.1,"y":60500},{"s":"r","x":31.4,"y":61700},{"s":"r","x":31.65,"y":63900},{"s":"r","x":31.9,"y":61700},{"s":"r","x":32.2,"y":60300},{"s":"r","x":32.5,"y":60800},{"s":"r","x":32.75,"y":69500},{"s":"r","x":32.9,"y":88600},{"s":"r","x":33,"y":92500},{"s":"r","x":33.1,"y":85200},{"s":"r","x":33.25,"y":66000},{"s":"r","x":33.4,"y":61200},{"s":"r","x":33.6,"y":63900},{"s":"r","x":33.8,"y":64800},{"s":"r","x":34,"y":62500},{"s":"r","x":34.3,"y":60500},{"s":"r","x":34.7,"y":60300},{"s":"r","x":35,"y":61200},{"s":"r","x":35.2,"y":63400},{"s":"r","x":35.4,"y":66000},{"s":"r","x":35.6,"y":65200},{"s":"r","x":35.85,"y":61300},{"s":"r","x":36.1,"y":61700},{"s":"r","x":36.35,"y":64600},{"s":"r","x":36.55,"y":63900},{"s":"r","x":36.8,"y":61200},{"s":"r","x":37.2,"y":60300},{"s":"r","x":37.7,"y":60600},{"s":"r","x":38.2,"y":60300},{"s":"r","x":38.7,"y":60800},{"s":"r","x":38.9,"y":63400},{"s":"r","x":39.1,"y":67900},{"s":"r","x":39.3,"y":64300},{"s":"r","x":39.5,"y":60800},{"s":"r","x":39.8,"y":60300},{"s":"r","x":40.05,"y":61700},{"s":"r","x":40.3,"y":63900},{"s":"r","x":40.5,"y":61700},{"s":"r","x":40.8,"y":60300},{"s":"r","x":41.2,"y":60500},{"s":"r","x":41.5,"y":61200},{"s":"r","x":41.75,"y":61300},{"s":"r","x":42,"y":60500},{"s":"r","x":42.5,"y":60300},{"s":"r","x":42.9,"y":61200},{"s":"r","x":43.2,"y":63100},{"s":"r","x":43.45,"y":61900},{"s":"r","x":43.8,"y":62900},{"s":"r","x":44.1,"y":65200},{"s":"r","x":44.35,"y":63400},{"s":"r","x":44.6,"y":61200},{"s":"r","x":45,"y":60500},{"s":"r","x":45.35,"y":61000},{"s":"r","x":45.6,"y":61300},{"s":"r","x":45.9,"y":60600},{"s":"r","x":46.3,"y":60300},{"s":"r","x":46.8,"y":60600},{"s":"r","x":47.3,"y":60100},{"s":"r","x":47.8,"y":60600},{"s":"r","x":48.3,"y":60300},{"s":"r","x":48.8,"y":60600},{"s":"r","x":49.3,"y":60300},{"s":"r","x":49.7,"y":60600},{"s":"r","x":50,"y":60500},
{"s":"o","x":20,"y":5300},{"s":"o","x":20.4,"y":5000},{"s":"o","x":20.8,"y":5500},{"s":"o","x":21.1,"y":5100},{"s":"o","x":21.35,"y":6000},{"s":"o","x":21.5,"y":12100},{"s":"o","x":21.65,"y":9500},{"s":"o","x":21.8,"y":5500},{"s":"o","x":22.1,"y":5000},{"s":"o","x":22.5,"y":5300},{"s":"o","x":23,"y":4800},{"s":"o","x":23.5,"y":5100},{"s":"o","x":24,"y":4800},{"s":"o","x":24.5,"y":5300},{"s":"o","x":25,"y":5000},{"s":"o","x":25.5,"y":5300},{"s":"o","x":26,"y":4800},{"s":"o","x":26.5,"y":5100},{"s":"o","x":27,"y":5000},{"s":"o","x":27.5,"y":5500},{"s":"o","x":28,"y":5000},{"s":"o","x":28.5,"y":5300},{"s":"o","x":29,"y":5100},{"s":"o","x":29.5,"y":5500},{"s":"o","x":29.8,"y":6000},{"s":"o","x":30.05,"y":7700},{"s":"o","x":30.25,"y":13800},{"s":"o","x":30.45,"y":38200},{"s":"o","x":30.6,"y":59900},{"s":"o","x":30.75,"y":57300},{"s":"o","x":30.9,"y":24300},{"s":"o","x":31.05,"y":20800},{"s":"o","x":31.2,"y":12100},{"s":"o","x":31.45,"y":7200},{"s":"o","x":31.8,"y":5800},{"s":"o","x":32.2,"y":5300},{"s":"o","x":32.7,"y":5100},{"s":"o","x":33.05,"y":6500},{"s":"o","x":33.4,"y":5300},{"s":"o","x":33.8,"y":5000},{"s":"o","x":34.2,"y":5300},{"s":"o","x":34.6,"y":5100},{"s":"o","x":35,"y":5700},{"s":"o","x":35.25,"y":10300},{"s":"o","x":35.45,"y":26000},{"s":"o","x":35.6,"y":22500},{"s":"o","x":35.8,"y":10300},{"s":"o","x":36.1,"y":6000},{"s":"o","x":36.5,"y":5300},{"s":"o","x":37,"y":5100},{"s":"o","x":37.4,"y":5500},{"s":"o","x":37.55,"y":7700},{"s":"o","x":37.7,"y":9100},{"s":"o","x":37.85,"y":6900},{"s":"o","x":38.2,"y":5100},{"s":"o","x":38.7,"y":5000},{"s":"o","x":39.2,"y":5300},{"s":"o","x":39.6,"y":6300},{"s":"o","x":39.85,"y":5500},{"s":"o","x":40.3,"y":5000},{"s":"o","x":40.8,"y":5300},{"s":"o","x":41.3,"y":5100},{"s":"o","x":41.6,"y":6900},{"s":"o","x":41.75,"y":8600},{"s":"o","x":41.9,"y":6000},{"s":"o","x":42.3,"y":5000},{"s":"o","x":42.8,"y":5300},{"s":"o","x":43.3,"y":5100},{"s":"o","x":43.8,"y":6000},{"s":"o","x":44.1,"y":7000},{"s":"o","x":44.5,"y":6700},{"s":"o","x":44.9,"y":5500},{"s":"o","x":45.3,"y":5800},{"s":"o","x":45.5,"y":9500},{"s":"o","x":45.65,"y":10300},{"s":"o","x":45.8,"y":7200},{"s":"o","x":46.1,"y":5500},{"s":"o","x":46.6,"y":5100},{"s":"o","x":47.1,"y":4800},{"s":"o","x":47.6,"y":5300},{"s":"o","x":48.1,"y":5000},{"s":"o","x":48.6,"y":5500},{"s":"o","x":49,"y":5700},{"s":"o","x":49.2,"y":7200},{"s":"o","x":49.4,"y":5500},{"s":"o","x":49.8,"y":5300},{"s":"o","x":50,"y":5500}
],
"BLc":[
{"s":"a","x":20,"y":75300},{"s":"a","x":20.4,"y":75000},{"s":"a","x":20.8,"y":75400},{"s":"a","x":21.2,"y":75200},{"s":"a","x":21.6,"y":75400},{"s":"a","x":22,"y":75200},{"s":"a","x":22.5,"y":75400},{"s":"a","x":23,"y":75200},{"s":"a","x":23.5,"y":75600},{"s":"a","x":24,"y":75400},{"s":"a","x":24.4,"y":75800},{"s":"a","x":24.7,"y":76900},{"s":"a","x":24.95,"y":80600},{"s":"a","x":25.15,"y":85800},{"s":"a","x":25.3,"y":89000},{"s":"a","x":25.45,"y":88400},{"s":"a","x":25.6,"y":83800},{"s":"a","x":25.8,"y":79900},{"s":"a","x":26,"y":77900},{"s":"a","x":26.3,"y":76600},{"s":"a","x":26.7,"y":76000},{"s":"a","x":27.2,"y":75600},{"s":"a","x":27.7,"y":75700},{"s":"a","x":28.2,"y":75600},{"s":"a","x":28.7,"y":75800},{"s":"a","x":29.2,"y":76000},{"s":"a","x":29.7,"y":76200},{"s":"a","x":30.2,"y":77000},{"s":"a","x":30.6,"y":77900},{"s":"a","x":30.9,"y":78600},{"s":"a","x":31.2,"y":77900},{"s":"a","x":31.6,"y":76900},{"s":"a","x":32,"y":76400},{"s":"a","x":32.5,"y":76100},{"s":"a","x":33,"y":76000},{"s":"a","x":33.5,"y":76200},{"s":"a","x":34,"y":76100},{"s":"a","x":34.5,"y":76400},{"s":"a","x":35,"y":76500},{"s":"a","x":35.5,"y":76900},{"s":"a","x":35.8,"y":76600},{"s":"a","x":36.2,"y":76700},{"s":"a","x":36.6,"y":77000},{"s":"a","x":37,"y":77300},{"s":"a","x":37.4,"y":77700},{"s":"a","x":37.8,"y":78600},{"s":"a","x":38.1,"y":78300},{"s":"a","x":38.5,"y":77300},{"s":"a","x":38.9,"y":76500},{"s":"a","x":39.4,"y":76000},{"s":"a","x":40,"y":75700},{"s":"a","x":40.6,"y":75600},{"s":"a","x":41.2,"y":75700},{"s":"a","x":41.8,"y":75400},{"s":"a","x":42.4,"y":75700},{"s":"a","x":43,"y":75400},{"s":"a","x":43.6,"y":75700},{"s":"a","x":44.2,"y":75600},{"s":"a","x":44.8,"y":75700},{"s":"a","x":45.4,"y":75400},{"s":"a","x":46,"y":75700},{"s":"a","x":46.6,"y":75600},{"s":"a","x":47.1,"y":76100},{"s":"a","x":47.5,"y":77300},{"s":"a","x":47.8,"y":79000},{"s":"a","x":48,"y":79600},{"s":"a","x":48.2,"y":79000},{"s":"a","x":48.5,"y":77000},{"s":"a","x":48.9,"y":75800},{"s":"a","x":49.4,"y":75400},{"s":"a","x":49.8,"y":75200},{"s":"a","x":50,"y":75400},
{"s":"r","x":20,"y":44800},{"s":"r","x":20.4,"y":44600},{"s":"r","x":20.8,"y":44900},{"s":"r","x":21.2,"y":44700},{"s":"r","x":21.45,"y":45300},{"s":"r","x":21.6,"y":46100},{"s":"r","x":21.75,"y":45100},{"s":"r","x":22.1,"y":44700},{"s":"r","x":22.6,"y":44900},{"s":"r","x":23.1,"y":44600},{"s":"r","x":23.6,"y":44900},{"s":"r","x":24,"y":44700},{"s":"r","x":24.4,"y":45300},{"s":"r","x":24.7,"y":47100},{"s":"r","x":24.95,"y":55600},{"s":"r","x":25.15,"y":66100},{"s":"r","x":25.3,"y":70000},{"s":"r","x":25.45,"y":68700},{"s":"r","x":25.6,"y":58200},{"s":"r","x":25.8,"y":49700},{"s":"r","x":26.1,"y":46100},{"s":"r","x":26.5,"y":45100},{"s":"r","x":27,"y":44700},{"s":"r","x":27.5,"y":44900},{"s":"r","x":28,"y":44600},{"s":"r","x":28.5,"y":44800},{"s":"r","x":29,"y":44600},{"s":"r","x":29.5,"y":44900},{"s":"r","x":30,"y":44700},{"s":"r","x":30.3,"y":45300},{"s":"r","x":30.5,"y":50300},{"s":"r","x":30.65,"y":54900},{"s":"r","x":30.8,"y":49000},{"s":"r","x":31,"y":45300},{"s":"r","x":31.3,"y":45100},{"s":"r","x":31.6,"y":47700},{"s":"r","x":31.85,"y":45700},{"s":"r","x":32.2,"y":44800},{"s":"r","x":32.5,"y":45300},{"s":"r","x":32.75,"y":48400},{"s":"r","x":32.9,"y":49400},{"s":"r","x":33.1,"y":47100},{"s":"r","x":33.3,"y":47400},{"s":"r","x":33.6,"y":48600},{"s":"r","x":33.85,"y":46700},{"s":"r","x":34.2,"y":45100},{"s":"r","x":34.6,"y":45300},{"s":"r","x":35,"y":46100},{"s":"r","x":35.25,"y":49000},{"s":"r","x":35.4,"y":50100},{"s":"r","x":35.6,"y":48400},{"s":"r","x":35.9,"y":46400},{"s":"r","x":36.3,"y":46700},{"s":"r","x":36.6,"y":47700},{"s":"r","x":36.9,"y":46700},{"s":"r","x":37.3,"y":47400},{"s":"r","x":37.6,"y":49300},{"s":"r","x":37.8,"y":50300},{"s":"r","x":38,"y":49300},{"s":"r","x":38.4,"y":47400},{"s":"r","x":38.8,"y":47100},{"s":"r","x":39.2,"y":45700},{"s":"r","x":39.6,"y":45100},{"s":"r","x":40,"y":45700},{"s":"r","x":40.3,"y":48100},{"s":"r","x":40.5,"y":46100},{"s":"r","x":40.9,"y":44900},{"s":"r","x":41.3,"y":44700},{"s":"r","x":41.6,"y":45100},{"s":"r","x":41.85,"y":46100},{"s":"r","x":42.1,"y":44900},{"s":"r","x":42.5,"y":44700},{"s":"r","x":42.9,"y":45500},{"s":"r","x":43.2,"y":47700},{"s":"r","x":43.45,"y":46100},{"s":"r","x":43.8,"y":46700},{"s":"r","x":44.05,"y":49000},{"s":"r","x":44.3,"y":47400},{"s":"r","x":44.6,"y":45600},{"s":"r","x":45,"y":44900},{"s":"r","x":45.5,"y":46000},{"s":"r","x":45.9,"y":44900},{"s":"r","x":46.4,"y":44700},{"s":"r","x":46.9,"y":45100},{"s":"r","x":47.3,"y":45700},{"s":"r","x":47.65,"y":48400},{"s":"r","x":47.9,"y":51700},{"s":"r","x":48.05,"y":52000},{"s":"r","x":48.25,"y":51000},{"s":"r","x":48.5,"y":47700},{"s":"r","x":48.8,"y":45600},{"s":"r","x":49.2,"y":44800},{"s":"r","x":49.6,"y":44600},{"s":"r","x":50,"y":44900},
{"s":"o","x":20,"y":5000},{"s":"o","x":20.4,"y":4700},{"s":"o","x":20.8,"y":5100},{"s":"o","x":21.2,"y":4900},{"s":"o","x":21.4,"y":5700},{"s":"o","x":21.55,"y":9600},{"s":"o","x":21.7,"y":7600},{"s":"o","x":21.85,"y":5000},{"s":"o","x":22.2,"y":4700},{"s":"o","x":22.6,"y":5100},{"s":"o","x":23,"y":4900},{"s":"o","x":23.5,"y":5100},{"s":"o","x":24,"y":5000},{"s":"o","x":24.4,"y":5700},{"s":"o","x":24.7,"y":7600},{"s":"o","x":24.9,"y":13500},{"s":"o","x":25.05,"y":20100},{"s":"o","x":25.2,"y":29300},{"s":"o","x":25.3,"y":33000},{"s":"o","x":25.45,"y":30600},{"s":"o","x":25.6,"y":18800},{"s":"o","x":25.8,"y":9600},{"s":"o","x":26.1,"y":6300},{"s":"o","x":26.5,"y":5400},{"s":"o","x":27,"y":4900},{"s":"o","x":27.5,"y":5100},{"s":"o","x":28,"y":4700},{"s":"o","x":28.5,"y":5000},{"s":"o","x":29,"y":4900},{"s":"o","x":29.5,"y":5300},{"s":"o","x":29.9,"y":5900},{"s":"o","x":30.15,"y":8300},{"s":"o","x":30.35,"y":20100},{"s":"o","x":30.5,"y":35900},{"s":"o","x":30.65,"y":43800},{"s":"o","x":30.8,"y":35900},{"s":"o","x":30.95,"y":14900},{"s":"o","x":31.15,"y":7600},{"s":"o","x":31.5,"y":5900},{"s":"o","x":32,"y":5300},{"s":"o","x":32.5,"y":5000},{"s":"o","x":33,"y":5100},{"s":"o","x":33.5,"y":4900},{"s":"o","x":34,"y":5100},{"s":"o","x":34.5,"y":5000},{"s":"o","x":35,"y":5700},{"s":"o","x":35.2,"y":9600},{"s":"o","x":35.4,"y":18400},{"s":"o","x":35.55,"y":14900},{"s":"o","x":35.75,"y":7600},{"s":"o","x":36.1,"y":5900},{"s":"o","x":36.5,"y":6300},{"s":"o","x":36.9,"y":7600},{"s":"o","x":37.2,"y":8900},{"s":"o","x":37.5,"y":10900},{"s":"o","x":37.7,"y":12500},{"s":"o","x":37.9,"y":10900},{"s":"o","x":38.2,"y":7600},{"s":"o","x":38.6,"y":5900},{"s":"o","x":39,"y":5300},{"s":"o","x":39.5,"y":5400},{"s":"o","x":39.8,"y":6200},{"s":"o","x":40.1,"y":5300},{"s":"o","x":40.6,"y":5000},{"s":"o","x":41.1,"y":5100},{"s":"o","x":41.5,"y":5400},{"s":"o","x":41.8,"y":7200},{"s":"o","x":42,"y":5700},{"s":"o","x":42.5,"y":5000},{"s":"o","x":43,"y":5100},{"s":"o","x":43.5,"y":5400},{"s":"o","x":44,"y":6400},{"s":"o","x":44.3,"y":6800},{"s":"o","x":44.6,"y":6100},{"s":"o","x":45,"y":5400},{"s":"o","x":45.35,"y":5900},{"s":"o","x":45.6,"y":8700},{"s":"o","x":45.8,"y":6700},{"s":"o","x":46.1,"y":5400},{"s":"o","x":46.6,"y":5100},{"s":"o","x":47,"y":5700},{"s":"o","x":47.4,"y":7200},{"s":"o","x":47.7,"y":10300},{"s":"o","x":47.95,"y":13700},{"s":"o","x":48.2,"y":12200},{"s":"o","x":48.5,"y":8300},{"s":"o","x":48.8,"y":5900},{"s":"o","x":49.1,"y":5900},{"s":"o","x":49.3,"y":6400},{"s":"o","x":49.6,"y":5300},{"s":"o","x":50,"y":5100}
],
"BRc":[
{"s":"a","x":20,"y":75100},{"s":"a","x":20.4,"y":74800},{"s":"a","x":20.8,"y":75200},{"s":"a","x":21.2,"y":74900},{"s":"a","x":21.5,"y":75800},{"s":"a","x":21.65,"y":76500},{"s":"a","x":21.8,"y":75700},{"s":"a","x":22.1,"y":74900},{"s":"a","x":22.5,"y":75200},{"s":"a","x":23,"y":74800},{"s":"a","x":23.5,"y":75100},{"s":"a","x":24,"y":74800},{"s":"a","x":24.5,"y":75200},{"s":"a","x":25,"y":74900},{"s":"a","x":25.5,"y":75200},{"s":"a","x":26,"y":75100},{"s":"a","x":26.4,"y":75500},{"s":"a","x":26.8,"y":76500},{"s":"a","x":27.05,"y":80200},{"s":"a","x":27.25,"y":88900},{"s":"a","x":27.4,"y":95000},{"s":"a","x":27.55,"y":95500},{"s":"a","x":27.7,"y":90400},{"s":"a","x":27.85,"y":81600},{"s":"a","x":28.05,"y":77300},{"s":"a","x":28.4,"y":75800},{"s":"a","x":28.8,"y":75200},{"s":"a","x":29.3,"y":74900},{"s":"a","x":29.8,"y":75200},{"s":"a","x":30.1,"y":75800},{"s":"a","x":30.35,"y":78000},{"s":"a","x":30.55,"y":84600},{"s":"a","x":30.7,"y":87800},{"s":"a","x":30.85,"y":86300},{"s":"a","x":31,"y":87500},{"s":"a","x":31.15,"y":83800},{"s":"a","x":31.35,"y":78000},{"s":"a","x":31.7,"y":75800},{"s":"a","x":32.1,"y":75200},{"s":"a","x":32.5,"y":75800},{"s":"a","x":32.75,"y":76500},{"s":"a","x":33,"y":75500},{"s":"a","x":33.5,"y":74900},{"s":"a","x":34,"y":75200},{"s":"a","x":34.5,"y":75100},{"s":"a","x":35,"y":75500},{"s":"a","x":35.35,"y":77300},{"s":"a","x":35.6,"y":81600},{"s":"a","x":35.8,"y":87200},{"s":"a","x":35.95,"y":89900},{"s":"a","x":36.1,"y":88900},{"s":"a","x":36.25,"y":83100},{"s":"a","x":36.45,"y":77300},{"s":"a","x":36.8,"y":75700},{"s":"a","x":37.3,"y":75100},{"s":"a","x":37.8,"y":75400},{"s":"a","x":38.3,"y":74900},{"s":"a","x":38.8,"y":75400},{"s":"a","x":39.05,"y":76400},{"s":"a","x":39.25,"y":76100},{"s":"a","x":39.6,"y":75100},{"s":"a","x":40,"y":74900},{"s":"a","x":40.5,"y":75400},{"s":"a","x":40.85,"y":77300},{"s":"a","x":41.05,"y":80200},{"s":"a","x":41.2,"y":80500},{"s":"a","x":41.35,"y":78000},{"s":"a","x":41.6,"y":75500},{"s":"a","x":42,"y":75100},{"s":"a","x":42.5,"y":75400},{"s":"a","x":43,"y":75100},{"s":"a","x":43.5,"y":75800},{"s":"a","x":43.85,"y":77000},{"s":"a","x":44.1,"y":76500},{"s":"a","x":44.5,"y":75400},{"s":"a","x":45,"y":75100},{"s":"a","x":45.5,"y":75800},{"s":"a","x":45.75,"y":76500},{"s":"a","x":46,"y":75500},{"s":"a","x":46.5,"y":74900},{"s":"a","x":47,"y":75200},{"s":"a","x":47.5,"y":74800},{"s":"a","x":48,"y":75200},{"s":"a","x":48.5,"y":74900},{"s":"a","x":49,"y":75400},{"s":"a","x":49.5,"y":74900},{"s":"a","x":50,"y":75200},
{"s":"r","x":20,"y":44900},{"s":"r","x":20.4,"y":44700},{"s":"r","x":20.8,"y":45100},{"s":"r","x":21.2,"y":44800},{"s":"r","x":21.5,"y":45500},{"s":"r","x":21.65,"y":46400},{"s":"r","x":21.8,"y":45200},{"s":"r","x":22.1,"y":44800},{"s":"r","x":22.6,"y":45100},{"s":"r","x":23.1,"y":44700},{"s":"r","x":23.6,"y":45100},{"s":"r","x":24.1,"y":44800},{"s":"r","x":24.6,"y":45100},{"s":"r","x":25.1,"y":44700},{"s":"r","x":25.6,"y":44900},{"s":"r","x":26,"y":44800},{"s":"r","x":26.4,"y":45200},{"s":"r","x":26.75,"y":46400},{"s":"r","x":27,"y":48900},{"s":"r","x":27.2,"y":55400},{"s":"r","x":27.35,"y":64200},{"s":"r","x":27.45,"y":66400},{"s":"r","x":27.6,"y":64900},{"s":"r","x":27.75,"y":56900},{"s":"r","x":27.95,"y":48200},{"s":"r","x":28.2,"y":45800},{"s":"r","x":28.6,"y":45100},{"s":"r","x":29.1,"y":44800},{"s":"r","x":29.6,"y":45100},{"s":"r","x":30,"y":45200},{"s":"r","x":30.3,"y":46000},{"s":"r","x":30.5,"y":51100},{"s":"r","x":30.63,"y":57200},{"s":"r","x":30.75,"y":52500},{"s":"r","x":30.95,"y":46000},{"s":"r","x":31.3,"y":45100},{"s":"r","x":31.6,"y":46700},{"s":"r","x":31.85,"y":45200},{"s":"r","x":32.2,"y":44900},{"s":"r","x":32.5,"y":45500},{"s":"r","x":32.85,"y":47000},{"s":"r","x":33.1,"y":45500},{"s":"r","x":33.4,"y":47400},{"s":"r","x":33.55,"y":48200},{"s":"r","x":33.75,"y":45800},{"s":"r","x":34.1,"y":45100},{"s":"r","x":34.5,"y":44900},{"s":"r","x":34.9,"y":45800},{"s":"r","x":35.2,"y":47400},{"s":"r","x":35.5,"y":49600},{"s":"r","x":35.7,"y":51800},{"s":"r","x":35.85,"y":56900},{"s":"r","x":35.98,"y":60100},{"s":"r","x":36.1,"y":58300},{"s":"r","x":36.25,"y":51100},{"s":"r","x":36.45,"y":46700},{"s":"r","x":36.8,"y":45200},{"s":"r","x":37.3,"y":44900},{"s":"r","x":37.8,"y":45200},{"s":"r","x":38.3,"y":44900},{"s":"r","x":38.65,"y":46000},{"s":"r","x":38.9,"y":47900},{"s":"r","x":39.15,"y":46400},{"s":"r","x":39.5,"y":45100},{"s":"r","x":39.8,"y":45800},{"s":"r","x":40.1,"y":47100},{"s":"r","x":40.3,"y":47400},{"s":"r","x":40.55,"y":45500},{"s":"r","x":40.85,"y":46700},{"s":"r","x":41.05,"y":50300},{"s":"r","x":41.17,"y":51800},{"s":"r","x":41.35,"y":48200},{"s":"r","x":41.6,"y":45800},{"s":"r","x":41.85,"y":45500},{"s":"r","x":42.05,"y":46000},{"s":"r","x":42.35,"y":45100},{"s":"r","x":42.8,"y":45800},{"s":"r","x":43.1,"y":47000},{"s":"r","x":43.3,"y":47700},{"s":"r","x":43.55,"y":46700},{"s":"r","x":43.8,"y":48200},{"s":"r","x":44,"y":49600},{"s":"r","x":44.2,"y":48400},{"s":"r","x":44.5,"y":46000},{"s":"r","x":44.9,"y":45100},{"s":"r","x":45.3,"y":45500},{"s":"r","x":45.55,"y":46700},{"s":"r","x":45.8,"y":45200},{"s":"r","x":46.2,"y":44800},{"s":"r","x":46.7,"y":45100},{"s":"r","x":47.2,"y":44700},{"s":"r","x":47.7,"y":45100},{"s":"r","x":48.2,"y":44800},{"s":"r","x":48.7,"y":45100},{"s":"r","x":49.2,"y":44700},{"s":"r","x":49.6,"y":45100},{"s":"r","x":50,"y":44900},
{"s":"o","x":20,"y":4900},{"s":"o","x":20.4,"y":4600},{"s":"o","x":20.8,"y":5100},{"s":"o","x":21.2,"y":4800},{"s":"o","x":21.45,"y":5600},{"s":"o","x":21.6,"y":8800},{"s":"o","x":21.75,"y":7100},{"s":"o","x":21.9,"y":4900},{"s":"o","x":22.3,"y":4600},{"s":"o","x":22.8,"y":5100},{"s":"o","x":23.3,"y":4800},{"s":"o","x":23.8,"y":5100},{"s":"o","x":24.3,"y":4600},{"s":"o","x":24.8,"y":4900},{"s":"o","x":25.3,"y":4800},{"s":"o","x":25.8,"y":5100},{"s":"o","x":26.2,"y":4900},{"s":"o","x":26.6,"y":5600},{"s":"o","x":26.9,"y":7400},{"s":"o","x":27.15,"y":13200},{"s":"o","x":27.35,"y":21900},{"s":"o","x":27.5,"y":23400},{"s":"o","x":27.65,"y":19000},{"s":"o","x":27.8,"y":10300},{"s":"o","x":28,"y":6400},{"s":"o","x":28.4,"y":5200},{"s":"o","x":28.9,"y":4800},{"s":"o","x":29.4,"y":5100},{"s":"o","x":29.9,"y":4900},{"s":"o","x":30.2,"y":5900},{"s":"o","x":30.4,"y":11800},{"s":"o","x":30.55,"y":32100},{"s":"o","x":30.65,"y":44500},{"s":"o","x":30.8,"y":32100},{"s":"o","x":30.95,"y":10300},{"s":"o","x":31.2,"y":5900},{"s":"o","x":31.6,"y":5100},{"s":"o","x":32.1,"y":4800},{"s":"o","x":32.6,"y":5100},{"s":"o","x":33.1,"y":4900},{"s":"o","x":33.6,"y":4800},{"s":"o","x":34.1,"y":5100},{"s":"o","x":34.6,"y":4900},{"s":"o","x":35,"y":5600},{"s":"o","x":35.2,"y":8800},{"s":"o","x":35.4,"y":16100},{"s":"o","x":35.52,"y":18300},{"s":"o","x":35.68,"y":13200},{"s":"o","x":35.8,"y":8800},{"s":"o","x":35.95,"y":16100},{"s":"o","x":36.07,"y":18000},{"s":"o","x":36.2,"y":13900},{"s":"o","x":36.4,"y":6700},{"s":"o","x":36.8,"y":5300},{"s":"o","x":37.2,"y":5100},{"s":"o","x":37.5,"y":5600},{"s":"o","x":37.67,"y":7400},{"s":"o","x":37.85,"y":5500},{"s":"o","x":38.3,"y":4900},{"s":"o","x":38.8,"y":5200},{"s":"o","x":39.17,"y":6700},{"s":"o","x":39.5,"y":5300},{"s":"o","x":40,"y":4900},{"s":"o","x":40.5,"y":5100},{"s":"o","x":40.9,"y":6200},{"s":"o","x":41.08,"y":9600},{"s":"o","x":41.2,"y":11200},{"s":"o","x":41.4,"y":8100},{"s":"o","x":41.6,"y":6400},{"s":"o","x":41.85,"y":7100},{"s":"o","x":42.1,"y":5500},{"s":"o","x":42.6,"y":4900},{"s":"o","x":43.1,"y":5200},{"s":"o","x":43.5,"y":5900},{"s":"o","x":43.9,"y":7100},{"s":"o","x":44.2,"y":6900},{"s":"o","x":44.5,"y":5800},{"s":"o","x":44.9,"y":5100},{"s":"o","x":45.35,"y":5500},{"s":"o","x":45.6,"y":8100},{"s":"o","x":45.72,"y":8500},{"s":"o","x":45.9,"y":6200},{"s":"o","x":46.2,"y":5100},{"s":"o","x":46.7,"y":4800},{"s":"o","x":47.2,"y":5100},{"s":"o","x":47.7,"y":4800},{"s":"o","x":48.2,"y":5100},{"s":"o","x":48.7,"y":4900},{"s":"o","x":49.1,"y":5500},{"s":"o","x":49.3,"y":6200},{"s":"o","x":49.5,"y":5200},{"s":"o","x":50,"y":4900}
]
}
}
